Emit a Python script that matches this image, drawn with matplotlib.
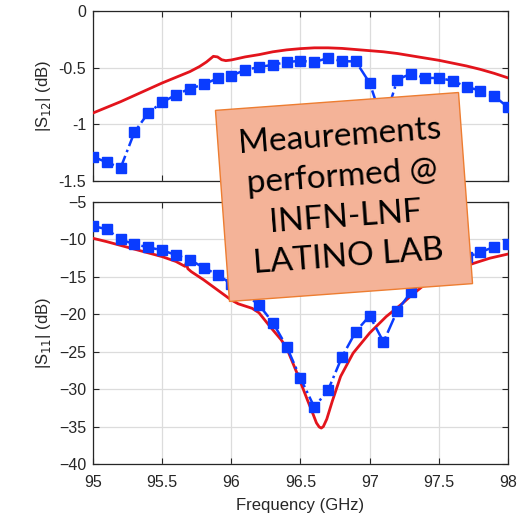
import matplotlib
matplotlib.use("Agg")
import matplotlib.pyplot as plt
from matplotlib.patches import Rectangle
from matplotlib.transforms import Affine2D

# ---- measured data (0.1 GHz steps) ----
freq_meas = [95.0, 95.1, 95.2, 95.3, 95.4, 95.5, 95.6, 95.7, 95.8, 95.9,
             96.0, 96.1, 96.2, 96.3, 96.4, 96.5, 96.6, 96.7, 96.8, 96.9,
             97.0, 97.1, 97.2, 97.3, 97.4, 97.5, 97.6, 97.7, 97.8, 97.9, 98.0]
s12_meas = [-1.286, -1.335, -1.383, -1.068, -0.898, -0.806, -0.739, -0.685,
            -0.648, -0.594, -0.570, -0.521, -0.494, -0.475, -0.450, -0.440,
            -0.450, -0.415, -0.443, -0.445, -0.635, -1.000, -0.605, -0.553,
            -0.590, -0.592, -0.615, -0.670, -0.702, -0.750, -0.850]
s11_meas = [-8.2, -8.65, -10.0, -10.65, -11.05, -11.45, -12.08, -12.7, -13.78,
            -14.7, -15.95, -17.3, -18.76, -21.1, -24.33, -28.55, -32.4, -30.1,
            -25.7, -22.3, -20.2, -23.7, -19.5, -17.0, -15.4, -14.1, -13.1,
            -12.4, -11.7, -11.0, -10.6]

# ---- simulated data ----
freq_sim12 = [95.0, 95.1, 95.2, 95.3, 95.4, 95.5, 95.6, 95.7, 95.77, 95.82,
              95.87, 95.9, 95.93, 95.96, 96.0, 96.1, 96.2, 96.3, 96.4, 96.5,
              96.6, 96.7, 96.8, 96.9, 97.0, 97.1, 97.2, 97.3, 97.4, 97.5,
              97.6, 97.7, 97.8, 97.9, 98.0]
s12_sim = [-0.900, -0.850, -0.800, -0.745, -0.690, -0.635, -0.585, -0.535,
           -0.490, -0.450, -0.400, -0.405, -0.430, -0.438, -0.432, -0.405,
           -0.385, -0.360, -0.343, -0.332, -0.325, -0.325, -0.330, -0.340,
           -0.350, -0.360, -0.375, -0.395, -0.415, -0.435, -0.460, -0.485,
           -0.515, -0.550, -0.590]

freq_sim11 = [95.0, 95.1, 95.2, 95.3, 95.4, 95.5, 95.6, 95.665, 95.675,
              95.685, 95.71, 95.8, 95.9, 96.0, 96.05, 96.1, 96.15, 96.2,
              96.28, 96.36, 96.4, 96.48, 96.55, 96.59, 96.615, 96.635, 96.65,
              96.665, 96.69, 96.73, 96.79, 96.88, 97.0, 97.12, 97.24, 97.3,
              97.41, 97.5, 97.6, 97.75, 97.87, 98.0]
s11_sim = [-9.85, -10.3, -10.8, -11.3, -11.8, -12.3, -12.95, -13.6, -13.05,
           -13.9, -14.3, -15.4, -16.75, -18.1, -18.6, -18.9, -19.2, -19.8,
           -21.65, -23.4, -24.5, -28.1, -31.45, -33.3, -34.5, -35.05, -35.2,
           -35.0, -34.0, -31.6, -28.3, -25.2, -22.5, -20.3, -18.5, -17.5,
           -15.85, -15.0, -14.2, -13.2, -12.5, -11.95]

s12_ticks = [0, -0.5, -1, -1.5]
s12_ticklabels = ["0", "-0.5", "-1", "-1.5"]
s11_ticks = [-5, -10, -15, -20, -25, -30, -35, -40]
freq_ticks = [95, 95.5, 96, 96.5, 97, 97.5, 98]
freq_ticklabels = ["95", "95.5", "96", "96.5", "97", "97.5", "98"]

plt.rcParams["font.family"] = ["Liberation Sans", "DejaVu Sans"]

BLUE = "#0A3CFF"
RED = "#E3141C"
W, H = 531, 516
fig = plt.figure(figsize=(W / 100, H / 100), dpi=100)


def ax_rect(left, top, right, bottom):
    return [left / W, 1 - bottom / H, (right - left) / W, (bottom - top) / H]


ax1 = fig.add_axes(ax_rect(93, 11, 508, 181))
ax2 = fig.add_axes(ax_rect(93, 202, 508, 464))

for ax in (ax1, ax2):
    ax.set_xlim(95, 98)
    ax.set_xticks(freq_ticks)
    ax.grid(True, color="#dcdcdc", linewidth=0.9)
    ax.set_axisbelow(True)
    ax.tick_params(direction="in", length=4, width=0.8, top=True, right=True,
                   labelsize=11.5, colors="#262626", pad=5)
    ax.tick_params(axis="x", pad=8)
    for sp in ax.spines.values():
        sp.set_color("#262626")
        sp.set_linewidth(0.9)

ax1.plot(freq_sim12, s12_sim, color=RED, linewidth=2.0, zorder=3)
ax1.plot(freq_meas, s12_meas, color=BLUE, linestyle="-.", linewidth=1.8,
         marker="s", markersize=7.5, zorder=4)
ax1.set_ylim(-1.5, 0)
ax1.set_yticks(s12_ticks)
ax1.set_yticklabels(s12_ticklabels)
ax1.set_xticklabels([])
ax1.set_ylabel(r"|S$_{12}$| (dB)", fontsize=12, color="#262626")

ax2.plot(freq_sim11, s11_sim, color=RED, linewidth=2.0, zorder=3)
ax2.plot(freq_meas, s11_meas, color=BLUE, linestyle="-.", linewidth=1.8,
         marker="s", markersize=7.5, zorder=4)
ax2.set_ylim(-40, -5)
ax2.set_yticks(s11_ticks)
ax2.set_xticklabels(freq_ticklabels)
ax2.set_ylabel(r"|S$_{11}$| (dB)", fontsize=12, color="#262626")
ax2.set_xlabel("Frequency (GHz)", fontsize=12, color="#262626", labelpad=6)

fig.align_ylabels([ax1, ax2])

# ---- rotated callout box ----
cx, cy = 344 / 100, (H - 197) / 100   # inches
bw, bh = 243.7 / 100, 191.6 / 100
angle = 4.2
box = Rectangle((cx - bw / 2, cy - bh / 2), bw, bh,
                facecolor="#F4B398", edgecolor="#ED7D31", linewidth=1.0,
                transform=Affine2D().rotate_deg_around(cx, cy, angle) + fig.dpi_scale_trans,
                zorder=10)
fig.add_artist(box)
fig.text(cx * 100 / W, cy * 100 / H,
         "Meaurements\nperformed @\nINFN-LNF\nLATINO LAB",
         ha="center", va="center", rotation=angle, rotation_mode="anchor",
         fontsize=24, family=["Lato", "DejaVu Sans"], weight="normal",
         linespacing=1.42, color="black", zorder=11)

fig.savefig("out.png", dpi=100)
